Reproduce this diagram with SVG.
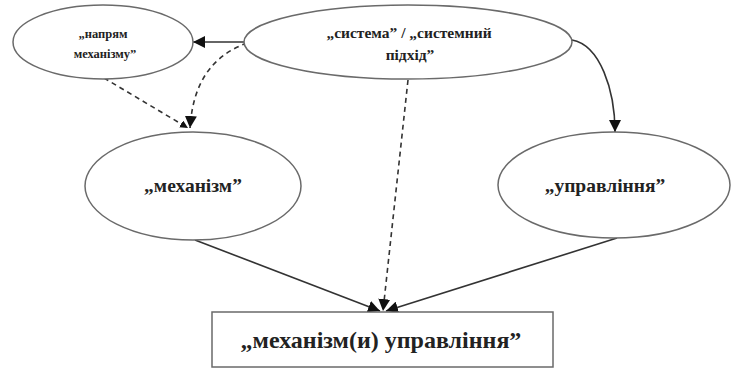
<svg xmlns="http://www.w3.org/2000/svg" width="733" height="371" viewBox="0 0 733 371">
<style>
.node{fill:#fff;stroke:#6a6a6a;stroke-width:1.5}
.t{font-family:"Liberation Serif","Times New Roman",serif;font-weight:bold;fill:#222;text-anchor:middle}
.c{fill:none;stroke:#333;stroke-width:1.6}
.d{stroke-dasharray:5,4}
</style>
<defs>
<marker id="ah" viewBox="0 0 10 10" refX="10" refY="5" markerWidth="8" markerHeight="8" markerUnits="userSpaceOnUse" orient="auto">
<path d="M0,0 L10,5 L0,10 z" fill="#111"/>
</marker>
<marker id="ahb" viewBox="0 0 10 10" refX="10" refY="5" markerWidth="12" markerHeight="12" markerUnits="userSpaceOnUse" orient="auto">
<path d="M0,0 L10,5 L0,10 z" fill="#111"/>
</marker>
</defs>
<rect width="733" height="371" fill="#fff"/>
<g id="connectors">
<path class="c" d="M245,42 L193,42" stroke-width="2.5" marker-end="url(#ahb)"/>
<path class="c d" d="M247,43 C200,60 192,100 190,128" marker-end="url(#ahb)"/>
<path class="c d" d="M104,78 L188,128" marker-end="url(#ah)"/>
<path class="c" d="M572,40 C600,45 615,90 615,132" marker-end="url(#ahb)"/>
<path class="c d" d="M408,80 L383,311" marker-end="url(#ahb)"/>
<path class="c" d="M195,240 L380,311" marker-end="url(#ahb)"/>
<path class="c" d="M617,238 L386,311" marker-end="url(#ahb)"/>
</g>
<g id="n-napriam">
<ellipse class="node" cx="103" cy="42" rx="90" ry="37"/>
<text class="t" x="103" y="38" font-size="12.5">„напрям</text>
<text class="t" x="105" y="58" font-size="12.5">механізму”</text>
</g>
<g id="n-systema">
<ellipse class="node" cx="408" cy="42" rx="164" ry="37"/>
<text class="t" x="409" y="38" font-size="15.5">„система” / „системний</text>
<text class="t" x="410" y="60" font-size="15.5">підхід”</text>
</g>
<g id="n-mekhanizm">
<ellipse class="node" cx="193" cy="186" rx="108" ry="54"/>
<text class="t" x="193" y="192" font-size="19.5">„механізм”</text>
</g>
<g id="n-upravlinnia">
<ellipse class="node" cx="614" cy="185" rx="116" ry="53"/>
<text class="t" x="605" y="192" font-size="19.5">„управління”</text>
</g>
<g id="n-result">
<rect class="node" x="212" y="312" width="341" height="55" stroke-width="2"/>
<text class="t" x="381" y="348" font-size="24">„механізм(и) управління”</text>
</g>
</svg>
